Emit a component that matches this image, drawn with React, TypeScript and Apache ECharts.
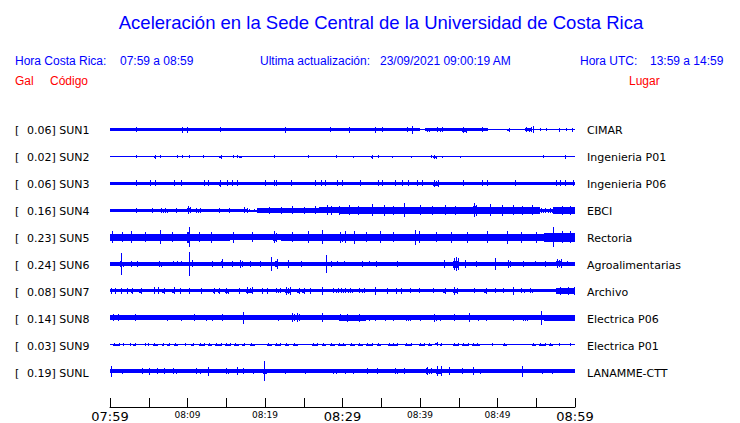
import React, { useEffect, useRef } from 'react';
import * as echarts from 'echarts';

// ---------- data ----------
const CODES = ['SUN1', 'SUN2', 'SUN3', 'SUN4', 'SUN5', 'SUN6', 'SUN7', 'SUN8', 'SUN9', 'SUNL'];
const GAL = [0.06, 0.02, 0.06, 0.16, 0.23, 0.24, 0.08, 0.14, 0.03, 0.19];
const PLACES = ['CIMAR', 'Ingenieria P01', 'Ingenieria P06', 'EBCI', 'Rectoria', 'Agroalimentarias', 'Archivo', 'Electrica P06', 'Electrica P01', 'LANAMME-CTT'];
const TICK_LABELS = ['07:59', '08:09', '08:19', '08:29', '08:39', '08:49', '08:59'];
const BIG_TICKS = [0, 30, 60];

// envelope pieces per station: [start minute, end minute, half amplitude]
const SUN1 = [
  [0, 40, 1.5], [40.6, 48.8, 1.5],
  [3.4, 3.4, 2.5], [9.25, 9.25, 3], [9.9, 9.9, 3], [14.2, 14.2, 2.5], [22.6, 22.6, 3], [28.4, 28.4, 2.5], [30.9, 30.9, 3],
  [34.2, 34.2, 3], [35.1, 35.1, 2.5], [38.3, 38.3, 2.5], [39, 39, 4], [40.8, 41.3, 2], [42, 43, 2.5], [45.4, 46, 3], [48, 48, 2.5],
  [51.2, 51.6, 2], [53.6, 54.4, 2.5], [54.6, 54.6, 3.5], [55.5, 55.5, 1.5], [56.3, 56.3, 1.5], [57.9, 57.9, 2], [58.8, 58.8, 1.5], [59.6, 59.6, 2],
];
const SUN2 = [
  [3.4, 3.4, 1.5], [5.7, 5.9, 2], [6.4, 6.4, 1.5], [8.6, 8.6, 1.5], [9.25, 9.25, 1.5], [10.2, 10.2, 1.5], [12, 12, 1.5],
  [14, 14.5, 2], [15.9, 15.9, 1.5], [16.4, 16.4, 1.5], [16.7, 17, 1], [21.1, 21.1, 1.5], [25.6, 25.6, 1.5], [29.2, 29.2, 1.5],
  [31.4, 31.4, 1], [33.7, 33.9, 2], [34.6, 34.6, 1.5], [36.4, 36.4, 1], [38.8, 38.8, 1], [41.4, 41.4, 1.5], [41.7, 42.2, 2],
  [42.8, 42.8, 1], [45.1, 45.1, 1], [55.9, 55.9, 1.5], [58.7, 58.9, 2],
];
const SUN3 = [
  [0, 60, 1.6],
  [3.4, 3.4, 3], [5.2, 5.2, 3], [5.7, 5.9, 3], [8.2, 8.4, 3], [9.2, 9.2, 3], [12.1, 12.1, 3], [12.6, 12.6, 3], [14, 14.3, 3.5],
  [15.1, 15.1, 3], [15.7, 15.7, 3], [16.4, 16.4, 3], [19.9, 20.1, 3], [21.1, 21.1, 3], [21.4, 21.4, 3], [23.4, 23.4, 3],
  [26.5, 26.5, 3], [27.2, 27.2, 3], [27.7, 27.7, 3], [29.3, 29.3, 3], [29.9, 29.9, 3], [32.3, 32.3, 3], [34.6, 34.6, 3],
  [35.1, 35.1, 3], [36.8, 36.8, 3], [37.7, 37.7, 3], [38.4, 38.4, 3], [39.6, 39.6, 3], [40.3, 40.3, 3], [41.7, 42.4, 3.5],
  [45.5, 45.5, 3], [48, 48, 3], [48.6, 48.6, 3], [52.3, 52.3, 3], [57.6, 57.6, 3], [58, 58, 3], [58.4, 58.9, 3], [59.8, 59.8, 3],
];
const SUN4 = [
  [0, 17.2, 1.7], [17.8, 19, 1.7], [19, 27, 2.3], [27, 29.7, 3], [29.7, 55.5, 3.5], [55.5, 57.2, 2.5], [57.2, 60, 3.5],
  [17.2, 17.8, 3],
  [3.4, 3.4, 2.5], [5.4, 5.4, 2.5], [6.5, 7.5, 2.5], [8.4, 8.6, 2.5], [9.9, 10.5, 4], [11, 11.8, 2.5], [14, 14, 2.5], [15.3, 15.3, 2.5],
  [20.5, 20.5, 3.5], [22, 22, 3.5], [23.5, 23.5, 4], [25, 25, 3.5], [26.5, 26.5, 4], [28, 28, 5], [28.5, 28.5, 4.5], [29.5, 29.5, 4.5],
  [30.8, 30.8, 5], [32, 32, 4.5], [33.8, 33.8, 6], [35.3, 35.3, 5.5], [36.5, 36.5, 4.5], [37.9, 37.9, 7], [40, 40, 5], [41.5, 41.5, 4.5],
  [43.2, 43.2, 5], [44.5, 44.5, 4.5], [46.9, 47.3, 7], [49, 49, 6], [50.6, 50.6, 5.5], [52, 52, 5], [53.2, 53.2, 4.5], [54.4, 54.4, 5],
  [58.3, 58.3, 4.5], [59.3, 59.3, 4.5],
];
const SUN5 = [
  [0, 15.5, 3.5], [15.5, 22, 3], [22, 56, 3.5], [56, 60, 4.5],
  [0.2, 0.2, 6], [1.5, 1.5, 5], [2.7, 2.7, 6], [4.5, 4.5, 5], [6.5, 6.5, 7], [8, 8, 5], [9.9, 10.3, 10], [11.5, 11.5, 5], [13, 13, 5.5],
  [15.9, 15.9, 5.5], [18.3, 18.3, 5], [21, 21.6, 6], [23.5, 23.5, 5], [25.3, 25.7, 6], [27.3, 27.3, 7], [29.5, 30, 5.5], [30.3, 30.3, 6],
  [31.5, 31.5, 6.5], [33, 33, 5], [34.8, 34.8, 6], [36.5, 36.5, 5], [39.3, 39.3, 7.5], [39.9, 39.9, 6], [42, 42, 5], [44, 44, 5.5],
  [46, 46, 5.5], [48.6, 48.6, 6], [51.2, 51.2, 6.5], [53, 53, 5.5], [55, 55, 5.5], [57.1, 57.1, 10], [58.3, 58.3, 6], [59.4, 59.4, 6],
];
const SUN6 = [
  [0, 60, 1.7],
  [1.4, 1.4, 11], [1.2, 1.8, 3], [2.6, 2.9, 3], [3.2, 3.6, 3], [6.2, 6.7, 3], [8, 8.2, 2.5], [8.6, 8.8, 2.5], [9.1, 9.2, 2.5],
  [10.2, 10.2, 12], [10.3, 10.7, 3.5], [13.1, 13.1, 3], [14.3, 14.6, 4.5], [15.7, 15.7, 3], [16.6, 17.2, 4], [18.1, 18.1, 3],
  [19.4, 19.4, 3], [20.8, 20.8, 7], [21.3, 21.7, 5], [23, 23, 4], [24.7, 24.7, 3], [27.9, 27.9, 9], [28.2, 28.6, 3], [29, 29.4, 2.5],
  [29.9, 30.3, 2.5], [31, 31, 2], [32.2, 32.6, 3], [33.3, 33.6, 2.5], [34.1, 34.4, 3], [37, 37, 3], [38.5, 38.5, 2], [40, 40, 2],
  [41.3, 41.3, 2], [43.1, 43.1, 4], [44.3, 45, 6], [44.6, 44.6, 7], [45.8, 45.8, 4], [47.2, 47.2, 3], [48.3, 48.3, 2], [49.7, 49.7, 6],
  [51.2, 51.8, 4], [53.3, 53.3, 3], [54.8, 54.8, 2.5], [55.9, 56.3, 3], [57.6, 58.3, 4.5], [59, 59, 2.5],
];
const SUN7 = [
  [0, 57.6, 1.7], [57.6, 60, 3],
  [0.13, 0.13, 3], [0.65, 0.65, 3], [1.42, 1.42, 3], [2.15, 2.15, 3], [2.7, 3, 3], [3.7, 4.1, 3], [5.72, 5.72, 3.5], [6.24, 6.24, 3.5],
  [6.7, 7.1, 3], [8, 8.4, 3.5], [9.03, 9.03, 3], [10.2, 10.2, 3], [11.7, 11.7, 3], [13.3, 13.6, 3], [13.9, 14.2, 3], [14.8, 15.3, 3],
  [16.6, 16.6, 3], [17.6, 18.5, 3.5], [19.6, 19.6, 3], [20.2, 20.2, 3], [21.3, 22, 2.5], [22.6, 23.4, 4], [24.1, 24.5, 3], [24.8, 25.2, 3],
  [25.8, 25.8, 3], [27.3, 27.3, 4], [28.6, 29.5, 2.5], [29.7, 31.4, 2.5], [32, 32.9, 2.5], [34.2, 34.2, 4], [35.7, 35.7, 3],
  [36.9, 36.9, 3], [37.6, 37.6, 3], [38.7, 38.7, 2.5], [39.9, 39.9, 2.5], [41.7, 41.7, 2.5], [43, 43.4, 3], [44.3, 44.9, 4],
  [46.7, 47.1, 2.5], [48.2, 48.6, 3], [49.7, 49.7, 2.5], [50.7, 50.7, 2.5], [52, 52, 4], [52.9, 53.5, 2.5], [54, 54.6, 2.5],
  [57.8, 58.2, 4], [58.8, 59.2, 4], [59.6, 60, 4],
];
const SUN8 = [
  [0, 14, 2.2], [14, 23.5, 2.7], [23.5, 29.5, 2.2], [29.5, 33, 3], [33, 56, 2.2], [56, 60, 3],
  [0.2, 1.1, 3.5], [3.1, 3.4, 3.5], [5.2, 5.6, 2.5], [7.3, 7.3, 3], [9.2, 9.2, 3], [10.7, 11.2, 3.5], [12.2, 12.5, 3], [13, 13.3, 3],
  [14.4, 14.4, 3.5], [17.2, 17.2, 6], [21.7, 21.7, 3], [23.4, 24.5, 4.5], [27.1, 27.5, 4.5], [29.5, 30, 3.5], [30.5, 31, 4],
  [32, 32.5, 4], [33.4, 33.4, 3], [34.2, 34.2, 3], [35.3, 35.6, 3], [36.2, 36.6, 3], [38.1, 38.9, 3], [40, 40, 3], [41.7, 42.2, 4],
  [42.6, 42.6, 3], [44.3, 44.9, 3.5], [46.2, 46.4, 4.5], [47.3, 47.6, 3], [48.2, 48.6, 3], [52, 52, 3], [53.1, 53.9, 3],
  [55.4, 55.8, 4.5], [55.6, 55.6, 7], [56.4, 56.4, 3], [58.1, 58.6, 3], [59.2, 60, 3],
];
const SUN9 = [
  [0.43, 1.29, 1.5], [1.72, 1.72, 1.5], [2.58, 2.58, 1.5], [3, 3.4, 1.5], [4.5, 4.5, 1.5], [4.95, 4.95, 1.5], [5.6, 6.2, 1.5],
  [6.7, 7, 1.5], [7.4, 7.8, 1.5], [8.2, 8.8, 1.5], [9.7, 9.7, 1.5], [10.5, 10.9, 1.5], [11.5, 12.2, 1.5], [12.7, 13.2, 1.5],
  [13.6, 14.4, 1.5], [14.8, 15.6, 1.5], [16, 16.6, 1.5], [17, 17.4, 1.5], [18.1, 18.7, 1.5], [20.2, 20.9, 1.5], [21.3, 22.1, 1.5],
  [22.6, 23.1, 1.5], [23.6, 24.3, 1.5], [26, 26.9, 1.5], [27.3, 27.9, 1.5], [28.4, 29, 1.5], [29.4, 30.5, 1.5], [31, 31.6, 1.5],
  [32, 32.6, 1.5], [33, 33.9, 1.5], [34.4, 35, 1.5], [35.9, 37.2, 1.5], [38, 39, 1.5], [39.9, 40.6, 1.5], [41, 41.6, 1.5],
  [41.9, 42.3, 2], [42.6, 42.9, 1.5], [44.3, 45, 1.5], [45.4, 46.3, 1.5], [46.7, 47.7, 1.5], [49.3, 49.3, 1.5], [50.7, 51.2, 1.5],
  [54.4, 55, 1.5], [55.4, 56.3, 1.5], [56.7, 57.2, 1.5], [57.9, 57.9, 1.5], [59.4, 59.4, 1.5],
];
const SUNL = [
  [0, 60, 2],
  [0.13, 0.13, 5.5], [0, 0.3, 3], [1.5, 1.5, 2.5], [3.9, 4.3, 3], [5, 5, 3.5], [5.8, 6.2, 3], [6.9, 7.1, 3], [8, 8.6, 3],
  [10.8, 11.2, 3], [11.6, 11.6, 2.5], [12.7, 12.7, 4.5], [14.8, 15.3, 3], [16.3, 16.5, 4], [17.2, 17.2, 3], [18.5, 18.5, 2.5],
  [19.8, 20.2, 3.5], [19.9, 19.9, 10], [22.6, 22.6, 2.5], [25.2, 25.2, 2.5], [28.7, 29.3, 2.5], [30.3, 30.5, 2.5], [31.4, 31.4, 2.5],
  [32.9, 33.3, 3], [34.3, 34.6, 3], [36.6, 37.2, 3], [37.9, 37.9, 3], [40.6, 41.5, 3], [40.9, 40.9, 4], [42, 42.8, 3.5],
  [42.2, 42.2, 5], [42.7, 42.7, 5], [43.7, 43.7, 4], [45.4, 45.4, 3], [46.9, 46.9, 4], [47.8, 47.8, 2.5], [53.2, 53.2, 5.5],
  [55.7, 55.7, 2.5], [57, 57, 2.5],
];
const TRACES = [SUN1, SUN2, SUN3, SUN4, SUN5, SUN6, SUN7, SUN8, SUN9, SUNL];
const BASE_LINE = [0, 60, 0.5];

// ---------- styling ----------
const BLUE = '#0000ff';
const RED = '#ff0000';
const SPACING = 27; // y-axis units between stations
const GRID_TOP = 103;
const GRID_LEFT = 110;
const GRID_RIGHT = 165;
const GRID_BOTTOM = 14;
const HEAD_FONT = '12px "Liberation Sans", Arial, sans-serif';
const LABEL_FONT = '11px "DejaVu Sans", sans-serif';

function txt(text: string, x: number, y: number, font: string, fill: string, align = 'left') {
  return {
    type: 'text',
    x,
    y,
    silent: true,
    style: { text, font, fill, textAlign: align, align, textVerticalAlign: 'middle', verticalAlign: 'middle' },
  };
}

function vrect(x: number, yc: number, w: number, h: number) {
  const hh = Math.max(1, Math.round(h));
  const y0 = Math.round(yc - hh / 2);
  return { type: 'rect', shape: { x, y: y0, width: Math.max(1, w), height: hh }, style: { fill: BLUE } };
}

export default function App() {
  const ref = useRef<HTMLDivElement>(null);

  useEffect(() => {
    if (!ref.current) return;
    const chart = echarts.init(ref.current, undefined, { renderer: 'svg' });

    const series = TRACES.map((pieces, i) => ({
      type: 'custom',
      name: CODES[i],
      coordinateSystem: 'cartesian2d',
      encode: { x: [0, 1], y: 2 },
      data: [BASE_LINE, ...pieces],
      silent: true,
      clip: false,
      renderItem: (_params: any, api: any) => {
        const t0 = api.value(0);
        const t1 = api.value(1);
        const a = api.value(2);
        const c = i * SPACING;
        const pA = api.coord([t0, c - a]);
        const pB = api.coord([t1, c + a]);
        const x0 = Math.round(Math.min(pA[0], pB[0]));
        let x1 = Math.round(Math.max(pA[0], pB[0]));
        if (x1 - x0 < 1) x1 = x0 + 1;
        const y0 = Math.round(Math.min(pA[1], pB[1]));
        let y1 = Math.round(Math.max(pA[1], pB[1]));
        if (y1 - y0 < 1) y1 = y0 + 1;
        const w = x1 - x0;
        const h = y1 - y0;
        const yc = (y0 + y1) / 2;
        if (w <= 1 || t1 - t0 > 2) {
          return { type: 'rect', shape: { x: x0, y: y0, width: w, height: h }, style: { fill: BLUE } };
        }
        // short burst: a core band with a few taller strokes
        const children: any[] = [vrect(x0, yc, w, h * 0.55)];
        const n = Math.max(1, Math.floor(w / 2));
        for (let k = 0; k < n; k++) {
          const xx = x0 + Math.round(((k + 0.5) * w) / n);
          const f = k % 2 === 0 ? 1 : 0.75;
          children.push(vrect(Math.min(xx, x1 - 1), yc, 1, h * f));
        }
        return { type: 'group', children };
      },
    }));

    const graphic: any[] = [
      txt('Aceleración en la Sede Central de la Universidad de Costa Rica', 381, 22, '18.5px "Liberation Sans", Arial, sans-serif', BLUE, 'center'),
      txt('Hora Costa Rica:', 15, 61, HEAD_FONT, BLUE),
      txt('07:59 a 08:59', 120, 61, HEAD_FONT, BLUE),
      txt('Ultima actualización:', 260, 61, HEAD_FONT, BLUE),
      txt('23/09/2021 09:00:19 AM', 380, 61, HEAD_FONT, BLUE),
      txt('Hora UTC:', 580, 61, HEAD_FONT, BLUE),
      txt('13:59 a 14:59', 650, 61, HEAD_FONT, BLUE),
      txt('Gal', 15, 81, HEAD_FONT, RED),
      txt('Código', 50, 81, HEAD_FONT, RED),
      txt('Lugar', 629, 81, HEAD_FONT, RED),
    ];
    CODES.forEach((code, i) => {
      const y = GRID_TOP + SPACING + i * SPACING;
      graphic.push(txt('[', 15, y, LABEL_FONT, '#000'));
      graphic.push(txt(`${GAL[i].toFixed(2)}] ${code}`, 27, y, LABEL_FONT, '#000'));
      graphic.push(txt(PLACES[i], 587, y, LABEL_FONT, '#000'));
    });

    chart.setOption({
      animation: false,
      backgroundColor: '#ffffff',
      grid: { left: GRID_LEFT, right: GRID_RIGHT, top: GRID_TOP, bottom: GRID_BOTTOM, containLabel: false },
      xAxis: {
        type: 'value',
        position: 'bottom',
        min: 0,
        max: 60,
        interval: 5,
        axisLine: { show: true, onZero: false, lineStyle: { color: '#000', width: 1 } },
        axisTick: { show: true, inside: true, length: 9, lineStyle: { color: '#000', width: 1 } },
        splitLine: { show: false },
        axisLabel: {
          show: true,
          margin: 2,
          showMinLabel: true,
          showMaxLabel: true,
          hideOverlap: false,
          formatter: (v: number) => {
            if (v % 10 !== 0) return '';
            const lbl = TICK_LABELS[v / 10];
            return BIG_TICKS.includes(v) ? `{big|${lbl}}` : `{small|${lbl}}`;
          },
          rich: {
            big: { fontSize: 13, fontFamily: 'DejaVu Sans', color: '#000', lineHeight: 15 },
            small: { fontSize: 9, fontFamily: 'DejaVu Sans', color: '#000', lineHeight: 11, padding: [1, 0, 0, 0] },
          },
        },
      },
      yAxis: { type: 'value', min: -SPACING, max: 279, inverse: true, show: false },
      graphic,
      series,
    });

    return () => chart.dispose();
  }, []);

  return (
    <div
      ref={ref}
      style={{ position: 'fixed', left: 0, top: 0, width: 740, height: 423, background: '#fff' }}
    />
  );
}
